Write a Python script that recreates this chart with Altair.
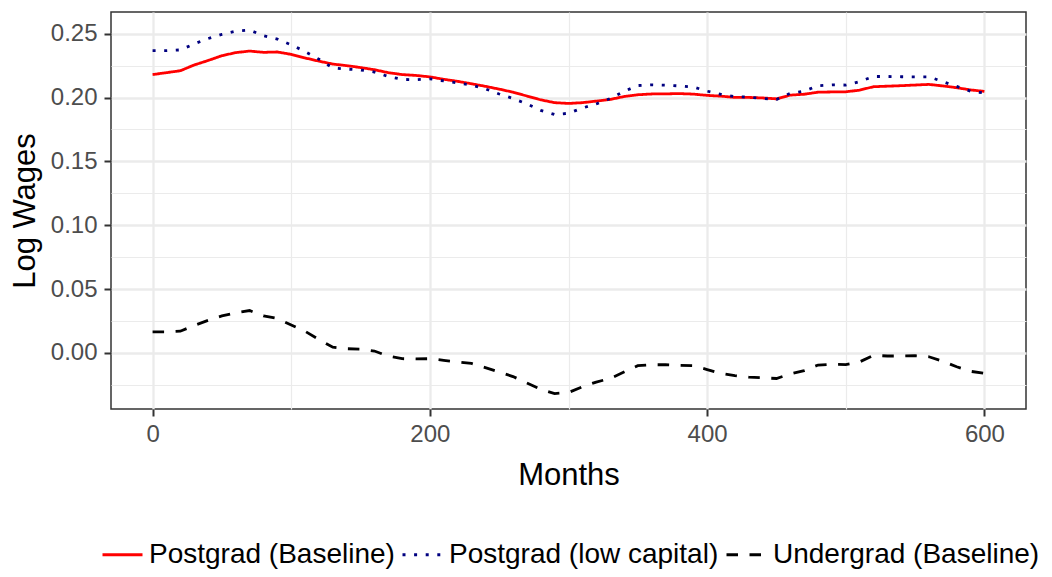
import altair as alt
import pandas as pd

months = list(range(0, 601, 10))

postgrad_baseline = [
    0.2180, 0.2195, 0.2210, 0.2255, 0.2290, 0.2328, 0.2352, 0.2364, 0.2354, 0.2357,
    0.2338, 0.2310, 0.2285, 0.2262, 0.2250, 0.2235, 0.2218, 0.2195, 0.2180, 0.2173,
    0.2162, 0.2143, 0.2127, 0.2108, 0.2088, 0.2066, 0.2042, 0.2012, 0.1982, 0.1960,
    0.1954, 0.1960, 0.1972, 0.1985, 0.2008, 0.2022, 0.2028, 0.2029, 0.2031, 0.2027,
    0.2017, 0.2011, 0.2001, 0.2001, 0.1997, 0.1990, 0.2019, 0.2026, 0.2042, 0.2044,
    0.2045, 0.2058, 0.2085, 0.2089, 0.2093, 0.2098, 0.2103, 0.2091, 0.2077, 0.2060,
    0.2048,
]

postgrad_low_capital = [
    0.2367, 0.2367, 0.2373, 0.2420, 0.2462, 0.2495, 0.2520, 0.2528, 0.2485, 0.2458,
    0.2413, 0.2360, 0.2300, 0.2232, 0.2223, 0.2216, 0.2200, 0.2165, 0.2142, 0.2140,
    0.2147, 0.2130, 0.2115, 0.2098, 0.2068, 0.2028, 0.1993, 0.1950, 0.1900, 0.1867,
    0.1877, 0.1918, 0.1950, 0.1992, 0.2048, 0.2094, 0.2100, 0.2097, 0.2091, 0.2083,
    0.2050, 0.2025, 0.2008, 0.2003, 0.1993, 0.1985, 0.2033, 0.2050, 0.2093, 0.2100,
    0.2098, 0.2125, 0.2165, 0.2165, 0.2163, 0.2162, 0.2162, 0.2125, 0.2087, 0.2050,
    0.2035,
]

undergrad_baseline = [
    0.0165, 0.0165, 0.0170, 0.0215, 0.0255, 0.0290, 0.0315, 0.0332, 0.0290, 0.0270,
    0.0219, 0.0170, 0.0105, 0.0045, 0.0033, 0.0030, 0.0015, -0.0025, -0.0045, -0.0047,
    -0.0045, -0.0058, -0.0071, -0.0082, -0.0115, -0.0150, -0.0185, -0.0235, -0.0285, -0.0318,
    -0.0310, -0.0265, -0.0228, -0.0200, -0.0150, -0.0100, -0.0093, -0.0092, -0.0097, -0.0100,
    -0.0130, -0.0160, -0.0178, -0.0190, -0.0195, -0.0200, -0.0165, -0.0138, -0.0095, -0.0089,
    -0.0091, -0.0070, -0.0018, -0.0024, -0.0024, -0.0022, -0.0030, -0.0065, -0.0108, -0.0144,
    -0.0160,
]

series_names = ["Postgrad (Baseline)", "Postgrad (low capital)", "Undergrad (Baseline)"]
series_colors = ["#FF0000", "#000080", "#000000"]
series_dashes = [[1, 0], [3, 8.6], [11.5, 11.5]]

x_ticks = [0, 200, 400, 600]
x_minor = [100, 300, 500]
y_ticks = [0.00, 0.05, 0.10, 0.15, 0.20, 0.25]
y_minor = [-0.025, 0.025, 0.075, 0.125, 0.175, 0.225]

rows = []
for name, vals in zip(series_names, [postgrad_baseline, postgrad_low_capital, undergrad_baseline]):
    for m, v in zip(months, vals):
        rows.append({"Months": m, "Log Wages": v, "series": name})
df = pd.DataFrame(rows)

FONT = "Liberation Sans"
x_scale = alt.Scale(domain=[-30, 630], nice=False, zero=False)
y_scale = alt.Scale(domain=[-0.0439, 0.267], nice=False, zero=False)

base = alt.Chart(df)

minor = base.mark_line(opacity=0).encode(
    x=alt.X("Months:Q", scale=x_scale,
            axis=alt.Axis(values=x_minor, labels=False, ticks=False, domain=False,
                          title=None, grid=True, gridColor="#EBEBEB", gridWidth=1.2,
                          orient="bottom")),
    y=alt.Y("Log Wages:Q", scale=y_scale,
            axis=alt.Axis(values=y_minor, labels=False, ticks=False, domain=False,
                          title=None, grid=True, gridColor="#EBEBEB", gridWidth=1.2,
                          orient="left")),
    detail="series:N",
)

legend_opts = dict(title=None, orient="none", direction="horizontal",
                   columns=3, legendX=-10, legendY=521,
                   labelFont=FONT, labelFontSize=28, labelColor="#000000",
                   labelLimit=500, symbolSize=1600, symbolStrokeWidth=2.8,
                   symbolType="stroke", labelOffset=5, columnPadding=1, padding=0)

main = base.mark_line(strokeWidth=2.8, strokeCap="butt").encode(
    x=alt.X("Months:Q", scale=x_scale,
            axis=alt.Axis(values=x_ticks, grid=True, gridColor="#EBEBEB", gridWidth=2.3,
                          domain=False, tickColor="#333333", tickWidth=2, tickSize=7,
                          labelColor="#4D4D4D", labelFontSize=24, labelFont=FONT,
                          labelPadding=6, title="Months", titleFont=FONT, titleFontSize=31,
                          titleFontWeight="normal", titleColor="#000000", titlePadding=14,
                          orient="bottom")),
    y=alt.Y("Log Wages:Q", scale=y_scale,
            axis=alt.Axis(values=y_ticks, format=".2f", grid=True, gridColor="#EBEBEB",
                          gridWidth=2.3, domain=False, tickColor="#333333", tickWidth=2,
                          tickSize=7, labelColor="#4D4D4D", labelFontSize=24, labelFont=FONT,
                          labelPadding=7, title="Log Wages", titleFont=FONT, titleFontSize=31,
                          titleFontWeight="normal", titleColor="#000000", titlePadding=9,
                          orient="left")),
    color=alt.Color("series:N", sort=series_names,
                    scale=alt.Scale(domain=series_names, range=series_colors),
                    legend=alt.Legend(**legend_opts)),
    strokeDash=alt.StrokeDash("series:N", sort=series_names,
                              scale=alt.Scale(domain=series_names, range=series_dashes),
                              legend=alt.Legend(**legend_opts)),
)

chart = alt.layer(minor, main).resolve_axis(x="independent", y="independent").properties(
    width=915,
    height=397,
    autosize=alt.AutoSizeParams(type="none"),
    padding={"left": 103, "top": 4, "right": 18, "bottom": 160},
).configure_view(stroke="#333333", strokeWidth=1.5)

chart.save("out.html", embed_options={"renderer": "svg", "actions": False})
